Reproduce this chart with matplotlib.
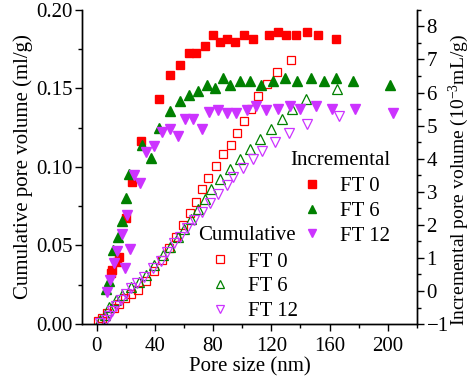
import matplotlib
matplotlib.use("Agg")
import matplotlib.pyplot as plt
from matplotlib.ticker import MultipleLocator, FormatStrFormatter
from matplotlib.lines import Line2D

plt.rcParams['font.family'] = ['Liberation Serif', 'DejaVu Serif']
plt.rcParams['mathtext.fontset'] = 'custom'
plt.rcParams['mathtext.rm'] = 'Liberation Serif'
plt.rcParams['mathtext.it'] = 'Liberation Serif:italic'
plt.rcParams['font.size'] = 15

# Incremental pore volume (10^-3 mL/g), right axis
inc_ft0_x = [9.6, 10.8, 14.2, 15.3, 20.4, 24.5, 30.2, 42.8, 50.4, 57, 63.4, 68.5, 74.2,
             79.9, 84.5, 89.8, 95, 101.2, 107.4, 118.4, 124.9, 129.9, 136.8, 144.3, 152.4, 164.3]
inc_ft0_y = [0.54, 0.64, 0.89, 1.04, 2.2, 3.31, 4.52, 5.81, 6.52, 6.82, 7.2, 7.2, 7.42,
             7.73, 7.52, 7.62, 7.52, 7.73, 7.62, 7.73, 7.83, 7.73, 7.73, 7.83, 7.73, 7.62]

inc_ft6_x = [6.2, 8.5, 11.2, 14.6, 17.2, 19.9, 22.2, 31.4, 37.6, 42.8, 50.4, 57, 63.4, 69.9,
             76.1, 81.3, 87.1, 91.6, 98.5, 105.4, 112.7, 121.2, 129.4, 137.5, 147.1, 156.2,
             164.3, 176.2, 201.6]
inc_ft6_y = [0.05, 0.31, 1.24, 1.63, 2.13, 2.81, 3.55, 4.42, 4.02, 4.93, 5.43, 5.74, 5.93, 6.05,
             6.24, 6.14, 6.45, 6.24, 6.34, 6.34, 6.24, 6.34, 6.45, 6.34, 6.45, 6.34,
             6.45, 6.34, 6.24]

inc_ft12_x = [7.4, 9.1, 11.9, 14.2, 17.4, 19.6, 20.8, 23.1, 25.6, 29.7, 33.7, 39.4, 44.7, 50.3,
              55.7, 60.7, 66.5, 72.4, 77.3, 83.6, 89.6, 96, 103, 109.8, 116.2, 124.4, 132.9,
              139.7, 150.5, 161.5, 177.7, 203.4]
inc_ft12_y = [-0.02, 0.33, 0.84, 1.22, 1.71, 0.69, 2.30, 1.28, 3.52, 3.27, 4.19, 4.39, 4.80, 4.90,
              4.70, 5.20, 5.20, 4.89, 5.42, 5.48, 5.39, 5.39, 5.48, 5.58, 5.48, 5.50, 5.59,
              5.49, 5.58, 5.50, 5.49, 5.38]

# Cumulative pore volume (ml/g), left axis
cum_ft0_x = [1.0, 3.4, 7.4, 11.7, 15.1, 19.2, 23.4, 28.2, 34.0, 39.4, 45.2, 49.7, 54.3, 59.6,
             64.1, 68.0, 72.4, 76.8, 81.8, 87.1, 92.1, 96.2, 101.4, 105.8, 110.7, 117.3, 123.7, 133.8]
cum_ft0_y = [0.0019, 0.0038, 0.0068, 0.0102, 0.0127, 0.0166, 0.0191, 0.0217, 0.0271, 0.0339,
             0.0408, 0.0482, 0.0556, 0.0631, 0.0705, 0.0779, 0.0857, 0.0928, 0.1006, 0.1082,
             0.114, 0.1217, 0.1293, 0.1369, 0.1449, 0.1529, 0.1605, 0.1682]

cum_ft6_x = [2.3, 5.5, 8.5, 13.1, 17.7, 23.4, 29.1, 33.7, 39.4, 45.8, 50.4, 55.9, 60.0, 65.1,
             69.6, 74.2, 78.8, 84.9, 91.8, 98.5, 105.4, 112.2, 119.6, 127.4, 134.5, 143.6, 164.9]
cum_ft6_y = [0.0025, 0.0057, 0.011, 0.0153, 0.0185, 0.0238, 0.0269, 0.0312, 0.0376, 0.044,
             0.0492, 0.0556, 0.0608, 0.0667, 0.0731, 0.0794, 0.0858, 0.0924, 0.0985, 0.1049,
             0.1116, 0.118, 0.1244, 0.1306, 0.1368, 0.1431, 0.1495]

cum_ft12_x = [2.3, 6.2, 8.5, 10.8, 13.1, 16.5, 19.9, 23.8, 28.0, 32.5, 38.5, 44.0, 48.6, 53.1,
              57.3, 61.9, 66.9, 72.2, 77.9, 83.6, 89.3, 94.0, 100.7, 107.7, 113.9, 122.7,
              132.0, 144.8, 166.2]
cum_ft12_y = [0.0008, 0.0025, 0.0051, 0.0083, 0.0115, 0.0153, 0.0191, 0.0227, 0.0259, 0.0301,
              0.0355, 0.0403, 0.0461, 0.0514, 0.0556, 0.061, 0.0662, 0.0715, 0.0773, 0.0828,
              0.0885, 0.0938, 0.0995, 0.1049, 0.1104, 0.1161, 0.1217, 0.1271, 0.1323]

labels = ["FT 0", "FT 6", "FT 12"]
red = "#ff0000"
green = "#008000"
purple = "#cc33ff"


def main():
    fig = plt.figure(figsize=(4.7, 3.79), dpi=100)
    ax = fig.add_axes([0.1745, 0.145, 0.7125, 0.829])
    ax2 = ax.twinx()

    ms = 6
    ax.plot(cum_ft0_x, cum_ft0_y, 's', ms=ms, mfc='none', mec=red, mew=0.9)
    ax.plot(cum_ft6_x, cum_ft6_y, '^', ms=ms + 0.5, mfc='none', mec=green, mew=0.9)
    ax.plot(cum_ft12_x, cum_ft12_y, 'v', ms=ms + 0.5, mfc='none', mec=purple, mew=0.9)

    ax2.plot(inc_ft0_x, inc_ft0_y, 's', ms=ms, color=red, mec=red)
    ax2.plot(inc_ft6_x, inc_ft6_y, '^', ms=ms + 1, color=green)
    ax2.plot(inc_ft12_x, inc_ft12_y, 'v', ms=ms + 1, color=purple)

    ax.set_xlim(-10, 220)
    ax.set_ylim(0, 0.20)
    ax2.set_ylim(-1, 8.5)

    ax.xaxis.set_major_locator(MultipleLocator(40))
    ax.xaxis.set_minor_locator(MultipleLocator(20))
    ax.yaxis.set_major_locator(MultipleLocator(0.05))
    ax.yaxis.set_minor_locator(MultipleLocator(0.025))
    ax.yaxis.set_major_formatter(FormatStrFormatter('%.2f'))
    ax2.yaxis.set_major_locator(MultipleLocator(1))
    ax2.yaxis.set_minor_locator(MultipleLocator(0.5))

    for a in (ax, ax2):
        a.spines['top'].set_visible(False)
        for s in a.spines.values():
            s.set_linewidth(1.0)
        a.tick_params(which='major', direction='out', length=5, width=1.0, labelsize=15, pad=2)
        a.tick_params(which='minor', direction='out', length=3, width=1.0)
    ax.tick_params(axis='x', which='major', pad=4)

    ax.set_xlabel("Pore size (nm)", fontsize=15, labelpad=1)
    ax.set_ylabel("Cumulative pore volume (ml/g)", fontsize=15, labelpad=2)
    ax2.set_ylabel("Incremental pore volume (10$^{-3}$mL/g)", fontsize=14)
    ax2.yaxis.set_label_coords(1.09, 0.46)

    inc_handles = [Line2D([], [], ls='none', marker=m, ms=ms, color=c)
                   for m, c in zip(['s', '^', 'v'], [red, green, purple])]
    cum_handles = [Line2D([], [], ls='none', marker=m, ms=ms, mfc='none', mec=c, mew=0.9)
                   for m, c in zip(['s', '^', 'v'], [red, green, purple])]

    leg1 = ax2.legend(inc_handles, labels, title="Incremental", frameon=False,
                      loc='upper left', bbox_to_anchor=(0.591, 0.585), alignment='left',
                      title_fontsize=15, fontsize=15, labelspacing=0.25,
                      handletextpad=0.3, borderpad=0, handlelength=2.1)
    leg1._legend_box.sep = 5
    ax2.add_artist(leg1)
    leg2 = ax2.legend(cum_handles, labels, title="Cumulative", frameon=False,
                      loc='upper left', bbox_to_anchor=(0.315, 0.345), alignment='left',
                      title_fontsize=15, fontsize=15, labelspacing=0.25,
                      handletextpad=0.3, borderpad=0, handlelength=2.1)
    leg2._legend_box.sep = 5

    fig.savefig("out.png", dpi=100)


if __name__ == '__main__':
    main()
